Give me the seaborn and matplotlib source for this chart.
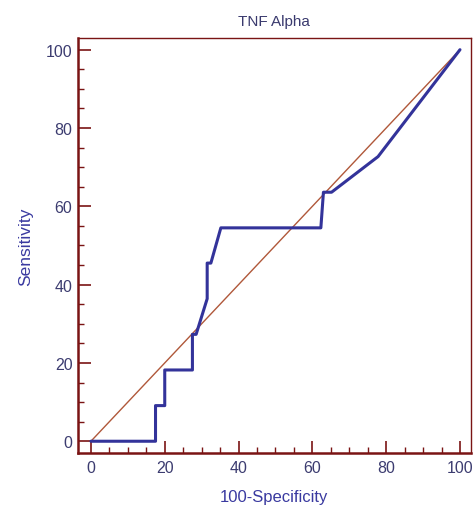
import pandas as pd
import seaborn as sns
import matplotlib.pyplot as plt
from matplotlib.ticker import MultipleLocator

# ROC curve points
specificity_100 = [0, 17.5, 17.5, 20, 20, 27.5, 27.5, 28.5, 31.5, 31.5, 32.5, 35.2,
                   62.3, 63.0, 65.2, 77.8, 100]
sensitivity = [0, 0, 9.1, 9.1, 18.2, 18.2, 27.3, 27.3, 36.4, 45.5, 45.5, 54.5,
               54.5, 63.6, 63.6, 72.7, 100]
diag = [0, 100]

roc = pd.DataFrame({'fpr': specificity_100, 'tpr': sensitivity})
ref = pd.DataFrame({'x': diag, 'y': diag})

sns.set_style('white')
plt.rcParams['font.family'] = ['Liberation Sans', 'DejaVu Sans']

fig = plt.figure(figsize=(4.74, 5.06), dpi=100)
ax = fig.add_axes([0.1646, 0.1028, 0.993 - 0.1646, 0.923 - 0.1028])

axis_red = '#7a1414'
sns.lineplot(data=ref, x='x', y='y', color='#b0583a', linewidth=1.0, ax=ax,
             estimator=None, sort=False)
sns.lineplot(data=roc, x='fpr', y='tpr', color='#33339a', linewidth=2.2, ax=ax,
             estimator=None, sort=False)

ax.set_xlim(-3.5, 102.9)
ax.set_ylim(-3.0, 103)
ax.xaxis.set_major_locator(MultipleLocator(20))
ax.xaxis.set_minor_locator(MultipleLocator(5))
ax.yaxis.set_major_locator(MultipleLocator(20))
ax.yaxis.set_minor_locator(MultipleLocator(5))
ax.tick_params(which='major', direction='in', length=9, width=1.2, color=axis_red,
               labelsize=11.5, labelcolor='#3c3c70', pad=5)
ax.tick_params(axis='y', which='major', pad=4)
ax.tick_params(which='minor', direction='in', length=4.5, width=1.0, color=axis_red)
ax.tick_params(axis='x', bottom=True, which='both')
ax.tick_params(axis='y', left=True, which='both')

for side in ['left', 'bottom']:
    ax.spines[side].set_color(axis_red)
    ax.spines[side].set_linewidth(1.8)
for side in ['top', 'right']:
    ax.spines[side].set_color(axis_red)
    ax.spines[side].set_linewidth(1.0)

ax.set_title('TNF Alpha', fontsize=11, color='#3a3a6e', pad=9)
ax.set_xlabel('100-Specificity', fontsize=12, color='#3a3aa0', labelpad=10)
ax.set_ylabel('Sensitivity', fontsize=12.5, color='#3a3aa0', labelpad=9)

fig.savefig('out.png', dpi=100)
